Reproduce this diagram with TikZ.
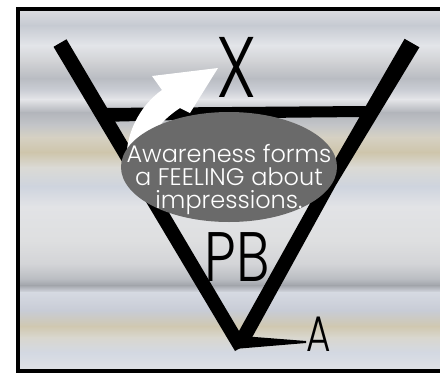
\documentclass[tikz,border=0pt]{standalone}
\usepackage{fontspec}
\setmainfont{Poppins Light}
\usetikzlibrary{shapes.geometric}

% sky colours of the backdrop
\definecolor{s0}{HTML}{DCDDE0}
\definecolor{s1}{HTML}{C6CAD2}
\definecolor{s2}{HTML}{E3E5E9}
\definecolor{s3}{HTML}{D0D1D4}
\definecolor{s4}{HTML}{B9BCC2}
\definecolor{s5}{HTML}{CBCED5}
\definecolor{s6}{HTML}{E5E6E9}
\definecolor{s7}{HTML}{B2B5BB}
\definecolor{s8}{HTML}{C2C4C8}
\definecolor{s9}{HTML}{D6D1C3}
\definecolor{s10}{HTML}{CEC5AB}
\definecolor{s11}{HTML}{DBDAD5}
\definecolor{s12}{HTML}{CED4DE}
\definecolor{s13}{HTML}{E2E3E6}
\definecolor{s14}{HTML}{DEDFE0}
\definecolor{s15}{HTML}{D3D4D7}
\definecolor{s16}{HTML}{B9BCC1}
\definecolor{s17}{HTML}{A1A4AA}
\definecolor{s18}{HTML}{D6DAE2}
\definecolor{s19}{HTML}{C8CCD6}
\definecolor{s20}{HTML}{D0C8B0}
\definecolor{s21}{HTML}{D9D7CE}
\definecolor{s22}{HTML}{D3D8E2}
\definecolor{s23}{HTML}{E0E2E6}
\definecolor{blobgray}{HTML}{6A6A6A}

\begin{document}
\begin{tikzpicture}[x=1pt, y=-1pt,
    letter/.style={inner sep=0pt, font=\fontsize{#1}{#1}\selectfont},
    feelingtext/.style={inner sep=0pt, align=center, text=white,
                        font=\fontsize{24}{23}\selectfont}
]
\useasboundingbox (0,0) rectangle (440,373);

% Backdrop
\foreach \ya/\yb/\ca/\cb in {9/25/s0/s1, 25/45/s1/s2, 45/62/s2/s3, 62/78/s3/s4,
    78/90/s4/s5, 90/99/s5/s6, 99/112/s6/s7, 112/124/s7/s8, 124/137/s8/s9,
    137/152/s9/s10, 152/167/s10/s11, 167/186/s11/s12, 186/206/s12/s13,
    206/240/s13/s14, 240/264/s14/s15, 264/279/s15/s16, 279/285/s16/s17,
    285/292/s17/s18, 292/310/s18/s19, 310/326/s19/s20, 326/337/s20/s21,
    337/352/s21/s22, 352/371/s22/s23}
  \shade[top color=\ca, bottom color=\cb] (18,\ya) rectangle (444,\yb+0.6);
\draw[line width=3.5] (18,9) rectangle (444,371);

% The funnel
\coordinate (vertex) at (239,331);
\fill (53.5,46.8) -- (66.5,39.3) -- (vertex) -- (322,182) -- (404.6,38.8)
  -- (419.4,47.3) -- (336,185) -- (249,343) -- (235,351) -- cycle;
\fill (97,108) -- (366,106) -- (362,117) -- (260,118) -- (99,122) -- cycle;

% Labels
\node[letter=86, xscale=0.8] (x) at (236.5,67) {X};
\node[letter=70, xscale=0.8] (pb) at (237.5,257.5) {PB};
\node[letter=50, xscale=0.75] (a) at (318.5,334.5) {A};
\fill (vertex) ++(3,5) -- (a.west |- 0,341) -- (a.west |- 0,343) -- (234,349) -- cycle;

% Rising arrow
\fill[white] (127,150) .. controls (129,128) and (142,104) .. (162,90)
  -- (152,76) -- (218,68) -- (190,113) -- (180,108)
  .. controls (165,118) and (152,130) .. (150,150) -- cycle;

% Feeling blob
\node[ellipse, fill=blobgray, minimum width=216, minimum height=110, inner sep=0pt]
  (feeling) at (229,167) {};
\node[feelingtext] (feelingtext) at (229,180)
  {Awareness forms\\a FEELING about\\impressions.};
\end{tikzpicture}
\end{document}
